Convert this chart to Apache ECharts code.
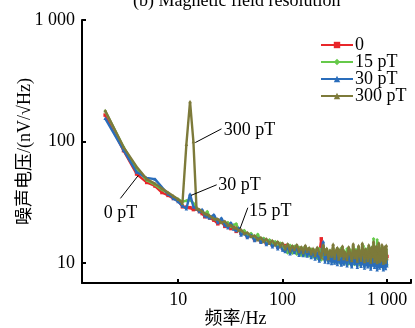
<!DOCTYPE html>
<html>
<head>
<meta charset="utf-8">
<script src="https://cdn.jsdelivr.net/npm/echarts@6/dist/echarts.min.js"></script>
<style>
  html, body { margin: 0; padding: 0; background: #fff; }
  #chart { width: 415px; height: 328px; }
</style>
</head>
<body>
<div id="chart"></div>
<script>
// frequency points (Hz)
const freq = [2, 3, 4, 5, 6, 7, 8, 9, 10, 11, 12, 13, 14, 15, 16, 17, 18, 19, 20,
  22, 24, 26, 28, 30, 32, 34, 36, 38, 40,
  43, 46, 50, 54, 58, 62, 66, 70, 75, 80, 85, 90, 95, 100,
  106, 112, 118, 124, 130, 137, 144, 151, 158, 165, 172, 180, 188, 196,
  205, 215, 225, 235, 245, 255, 265, 275, 285, 295, 305, 315, 325, 335, 345, 355, 365, 375, 385, 395,
  415, 430, 445, 460, 475, 490, 505, 520, 535, 550, 565, 580, 595, 610, 625, 640, 655, 670, 685, 700,
  715, 730, 745, 760, 775, 790, 805, 820, 835, 850, 865, 880, 895, 910, 925, 940, 955, 970, 985, 1000]

// noise voltage, nV/sqrt(Hz)
const noise0 = [165, 84, 54, 46, 43, 38, 36, 34, 32.5, 29, 28.8, 28.5, 27.5, 27.8, 26.5, 25.5, 24, 24.8, 23.5,
  22.5, 21, 21.8, 20, 20.8, 19.2, 19.8, 18.2, 18.8, 17.5,
  17.8, 16.5, 16.8, 15.5, 16.2, 15, 15.6, 14.5, 15.2, 14, 14.6, 13.5, 14.3, 13.2,
  13.9, 12.9, 13.6, 12.6, 13.4, 12.3, 13.0, 12.1, 12.9, 11.9, 12.8, 11.8, 12.6, 11.7,
  12.3, 11.2, 12.0, 15.8, 10.9, 11.9, 10.8, 12.1, 10.7, 11.8, 10.9, 12.0, 10.6, 11.7, 10.8, 11.9, 10.5, 11.6, 10.7, 11.8,
  10.6, 12.1, 10.5, 11.9, 10.4, 12.2, 10.3, 11.8, 10.5, 12.3, 10.2, 11.7, 10.4, 12.0, 10.1, 11.9, 10.3, 11.6, 10.0, 11.4,
  10.4, 12.0, 10.2, 11.8, 10.3, 11.9, 10.1, 11.6, 10.2, 11.7, 10.0, 11.5, 10.3, 11.8, 10.1, 11.4, 10.0, 11.6, 10.2, 11.3]
const noise15 = [178, 90, 59, 48, 44, 40, 37.5, 35, 33.5, 32, 32.5, 33, 31, 28.5, 27, 26.5, 25, 26.5, 24,
  23.5, 22, 22.5, 21, 21.5, 20, 20.5, 21, 18.8, 18,
  18.5, 17, 17.5, 16, 17.2, 15.2, 16, 14.5, 15.5, 14, 15, 13.5, 14.6, 13,
  13.6, 12.1, 14.0, 12.0, 13.7, 11.8, 13.5, 11.6, 13.3, 11.5, 13.1, 11.4, 13.0, 11.2,
  12.8, 10.9, 13.1, 10.6, 12.7, 10.5, 13.0, 10.3, 12.6, 10.4, 13.2, 10.1, 12.5, 10.3, 12.9, 10.0, 13.3, 10.2, 12.7, 9.9,
  13.1, 9.8, 12.8, 10.1, 13.6, 9.7, 12.9, 10.0, 13.4, 9.6, 12.6, 9.9, 13.8, 9.5, 12.7, 10.0, 13.2, 9.6, 12.9, 9.4,
  13.5, 9.8, 15.8, 9.5, 13.0, 9.7, 15.5, 9.4, 12.8, 9.6, 13.3, 9.3, 13.0, 9.7, 12.6, 9.5, 13.4, 9.4, 12.9, 9.6]
const noise30 = [155, 85, 56, 50, 49, 42, 37, 34, 32, 29.5, 28, 37, 29, 28, 26.5, 27.5, 24.5, 24, 23.5,
  25, 21.5, 23.5, 20.5, 19.5, 21.5, 19, 18.5, 19.5, 17,
  17.5, 16.2, 17, 15.3, 16, 14.8, 15.5, 14.2, 14.9, 13.6, 14.4, 13.1, 14, 12.8,
  12.4, 13.6, 11.9, 13.2, 12.2, 13.4, 11.6, 12.8, 11.5, 13.0, 11.4, 12.5, 11.1, 12.3,
  10.8, 12.2, 10.4, 11.7, 15.0, 10.2, 12.4, 10.1, 11.8, 9.9, 11.4, 10.0, 12.1, 9.7, 11.5, 10.3, 9.6, 11.9, 9.8, 11.2,
  9.5, 11.6, 10.1, 9.3, 11.8, 9.9, 11.0, 9.2, 11.5, 10.2, 9.4, 11.7, 10.0, 9.1, 11.3, 9.8, 9.3, 11.6, 10.1, 8.9,
  11.2, 9.6, 11.9, 9.2, 10.6, 11.4, 8.8, 10.0, 11.5, 9.1, 10.9, 9.4, 11.7, 9.7, 8.8, 11.1, 9.9, 9.0, 11.3, 9.5]
const noise300 = [180, 90, 62, 49, 45, 41, 38, 35.5, 33.5, 31, 95, 213, 100, 28, 27.5, 26.5, 25.5, 25, 24.5,
  23, 23, 21.5, 22, 20.5, 20.5, 19.5, 19.5, 18.5, 18.8,
  17.5, 17.8, 16.5, 16.8, 15.5, 16.2, 15, 15.8, 14.5, 15.3, 14.1, 15, 13.8, 14.6,
  13.1, 14.4, 12.6, 13.9, 12.9, 14.2, 12.4, 13.6, 12.2, 14.0, 12.5, 13.4, 11.9, 13.2,
  11.6, 13.5, 12.1, 11.2, 14.1, 11.8, 13.2, 10.9, 12.8, 11.4, 14.3, 11.0, 12.6, 13.4, 10.8, 12.9, 11.5, 13.8, 10.9, 12.4,
  10.7, 13.6, 11.9, 10.5, 14.4, 11.1, 12.7, 10.4, 13.9, 11.6, 10.6, 14.6, 12.2, 10.3, 13.1, 11.4, 10.5, 14.1, 12.0, 10.2,
  13.5, 11.3, 15.0, 10.4, 12.6, 13.8, 10.1, 11.8, 14.7, 10.3, 12.9, 10.6, 14.2, 11.2, 10.0, 13.6, 11.7, 10.2, 14.0, 10.9]

const seriesNames = ['0', '15 pT', '30 pT', '300 pT']
const seriesColors = ['#e8262a', '#66c94a', '#2a6dbb', '#7d7a3a']
const seriesSymbols = ['rect', 'diamond', 'triangle', 'triangle']
const seriesValues = [noise0, noise15, noise30, noise300]

// callout texts: leader line ends and text anchor, in data coords
const notes = [
  { text: '300 pT', from: [14.6, 98], to: [26, 127], at: [27.3, 124], align: 'left' },
  { text: '30 pT', from: [13.3, 36], to: [23.4, 44], at: [24.2, 43.5], align: 'left' },
  { text: '15 pT', from: [39.2, 19.2], to: [46.5, 28.5], at: [47.8, 26.8], align: 'left' },
  { text: '0 pT', from: [4.15, 52.5], to: [2.8, 34], at: [2.8, 25.6], align: 'center' }
]

const font = 'Liberation Serif, Noto Sans CJK SC'
const chart = echarts.init(document.getElementById('chart'))

const tickText = v => (v === 10 || v === 100) ? String(v) : (v === 1000 ? '1 000' : '')

chart.setOption({
  animation: false,
  backgroundColor: '#fff',
  title: {
    text: '(b) Magnetic field resolution',
    left: 128,
    top: -13,
    textStyle: { fontFamily: font, fontSize: 18, fontWeight: 'normal', color: '#000' }
  },
  legend: {
    orient: 'vertical',
    left: 320,
    top: 36,
    padding: 0,
    itemWidth: 32,
    itemHeight: 8,
    itemGap: -1,
    data: seriesNames,
    textStyle: { fontFamily: font, fontSize: 18, color: '#000', lineHeight: 17, padding: [0, 0, 0, -3] }
  },
  grid: { left: 82, right: 4, top: 20, bottom: 45, outerBoundsMode: 'none' },
  xAxis: {
    type: 'log',
    min: 1.2,
    max: 1700,
    name: '频率/Hz',
    nameLocation: 'middle',
    nameGap: 27,
    nameMoveOverlap: false,
    nameTextStyle: { fontFamily: font, fontSize: 18, color: '#000', padding: [0, 22, 0, 0] },
    axisLine: { lineStyle: { color: '#000', width: 2 } },
    axisTick: { inside: true, length: 4, lineStyle: { width: 2 } },
    axisLabel: { fontFamily: font, fontSize: 18, color: '#000', margin: 8, formatter: tickText },
    splitLine: { show: false },
    minorTick: { show: false }
  },
  yAxis: {
    type: 'log',
    min: 6.84,
    max: 1000,
    name: '噪声电压/(nV/√Hz)',
    nameLocation: 'middle',
    nameGap: 48,
    nameMoveOverlap: false,
    nameTextStyle: { fontFamily: font, fontSize: 18, color: '#000' },
    axisLine: { lineStyle: { color: '#000', width: 2 } },
    axisTick: { inside: true, length: 4, lineStyle: { width: 2 } },
    axisLabel: { fontFamily: font, fontSize: 18, color: '#000', margin: 7, formatter: tickText },
    splitLine: { show: false }
  },
  series: seriesValues.map((vals, k) => ({
    name: seriesNames[k],
    type: 'line',
    data: freq.map((f, i) => [f, vals[i]]),
    symbol: seriesSymbols[k],
    symbolSize: 3.5,
    showSymbol: true,
    lineStyle: { width: 2.4, color: seriesColors[k] },
    itemStyle: { color: seriesColors[k] },
    z: 2 + k
  }))
})

// place the callouts through the axes
const px = p => chart.convertToPixel({ gridIndex: 0 }, p)
const graphics = []
notes.forEach(n => {
  const a = px(n.from), b = px(n.to), t = px(n.at)
  graphics.push({
    type: 'line', z: 100,
    shape: { x1: a[0], y1: a[1], x2: b[0], y2: b[1] },
    style: { stroke: '#000', lineWidth: 1 }
  })
  graphics.push({
    type: 'text', z: 100,
    x: t[0], y: t[1],
    style: { text: n.text, font: '18px Liberation Serif', fill: '#000', align: n.align, verticalAlign: 'middle' }
  })
})
chart.setOption({ graphic: graphics })
</script>
</body>
</html>
